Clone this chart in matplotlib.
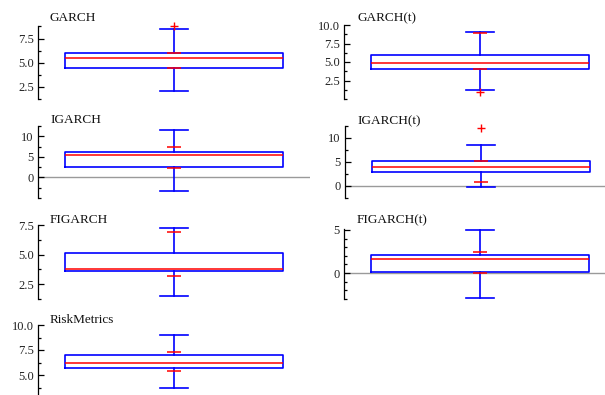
import matplotlib
matplotlib.use("Agg")
import matplotlib.pyplot as plt
from matplotlib.ticker import FixedLocator, FormatStrFormatter

# ---- data ----
names = ["GARCH", "GARCH(t)", "IGARCH", "IGARCH(t)", "FIGARCH", "FIGARCH(t)", "RiskMetrics"]
q1 = [4.41, 4.10, 2.54, 3.00, 3.65, 0.12, 5.67]
q3 = [6.03, 5.95, 6.10, 5.27, 5.15, 2.07, 7.00]
med = [5.52, 4.86, 5.37, 3.92, 3.82, 1.68, 6.20]
whislo = [2.03, 1.26, -3.2, -0.2, 1.48, -2.93, 3.70]
whishi = [8.50, 9.00, 11.6, 8.6, 7.27, 5.04, 8.97]
red_lo = [4.41, 4.10, 2.30, 0.78, 3.16, 0.05, 5.37]
red_hi = [6.03, 8.86, 7.40, 5.27, 6.90, 2.46, 7.34]
outliers = [[8.78], [0.9], [], [12.1], [], [], []]
ylims = [(1.25, 8.8), (0, 10), (-5, 12.5), (-2.5, 12.5), (1.25, 7.5), (-3, 5.1), (3.0, 10)]
major_ticks = [[2.5, 5.0, 7.5], [2.5, 5.0, 7.5, 10.0], [0, 5, 10], [0, 5, 10],
               [2.5, 5.0, 7.5], [0, 5], [5.0, 7.5, 10.0]]
minor_ticks = [[1.25, 3.75, 6.25, 8.75], [0, 1.25, 3.75, 6.25, 8.75],
               [-5, -2.5, 2.5, 7.5, 12.5], [-2.5, 2.5, 7.5, 12.5],
               [1.25, 3.75, 6.25], [-3, -2, -1, 1, 2, 3, 4], [3.75, 6.25, 8.75]]
tick_fmt = ["%.1f", "%.1f", "%d", "%d", "%.1f", "%d", "%.1f"]
zero_line = [False, False, True, True, False, True, False]

# ---- layout (pixel boxes: left, top, right, bottom) ----
W, H = 605, 395
boxes = [(38, 26, 310, 99), (344, 25, 616, 99), (38, 126, 310, 198), (345, 126, 617, 198),
         (38, 225, 310, 299), (344, 229, 616, 299), (38, 325, 310, 395)]
title_pos = [(50, 20.7), (357, 21.7), (50, 123.3), (357, 124), (50, 222.7), (357, 223.5), (50, 322.7)]

serif = ["Liberation Serif", "DejaVu Serif"]
fig = plt.figure(figsize=(W / 100, H / 100), dpi=100)
blue = "#0000ff"
red = "#ff0000"

for i, name in enumerate(names):
    l, t, r, b = boxes[i]
    ax = fig.add_axes([l / W, 1 - b / H, (r - l) / W, (b - t) / H])
    ax.set_facecolor("none")
    if zero_line[i]:
        ax.axhline(0, color="#9a9a9a", lw=1.0, zorder=0)
    stats = [dict(med=med[i], q1=q1[i], q3=q3[i], whislo=whislo[i], whishi=whishi[i],
                  fliers=outliers[i])]
    art = ax.bxp(stats, positions=[0.5], widths=0.8, capwidths=0.1, showfliers=True,
                 manage_ticks=False,
                 boxprops=dict(color=blue, lw=1.2),
                 whiskerprops=dict(color=blue, lw=1.2),
                 capprops=dict(color=blue, lw=1.2),
                 medianprops=dict(color=red, lw=1.1),
                 flierprops=dict(marker="+", markeredgecolor=red, markersize=6, mew=1.0))
    for f in art["fliers"]:
        f.set_clip_on(False)
    ax.hlines([red_lo[i], red_hi[i]], 0.474, 0.526, color=red, lw=1.1, zorder=3)
    ax.set_xlim(0, 1)
    ax.set_ylim(*ylims[i])
    for s in ["top", "right", "bottom"]:
        ax.spines[s].set_visible(False)
    ax.spines["left"].set_linewidth(0.9)
    ax.set_xticks([])
    ax.yaxis.set_major_locator(FixedLocator(major_ticks[i]))
    ax.yaxis.set_minor_locator(FixedLocator(minor_ticks[i]))
    ax.yaxis.set_major_formatter(FormatStrFormatter(tick_fmt[i]))
    ax.tick_params(axis="y", which="major", direction="in", length=4, width=0.9, pad=3,
                   labelsize=9, labelcolor="#222222")
    ax.tick_params(axis="y", which="minor", direction="in", length=2.5, width=0.9)
    for lab in ax.get_yticklabels():
        lab.set_family(serif)
    tx, ty = title_pos[i]
    fig.text(tx / W, 1 - ty / H, name, family=serif, fontsize=9.5, color="#111111",
             ha="left", va="baseline")

fig.savefig("out.png", dpi=100)
